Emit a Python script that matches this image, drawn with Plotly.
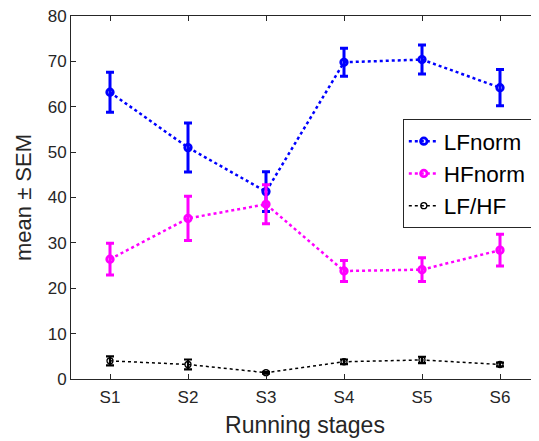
import plotly.graph_objects as go

stages = ["S1", "S2", "S3", "S4", "S5", "S6"]
stage_pos = [1, 2, 3, 4, 5, 6]
y_ticks = [0, 10, 20, 30, 40, 50, 60, 70, 80]

lf_norm = [63.2, 51.0, 41.3, 69.8, 70.4, 64.2]
lf_norm_sem = [4.4, 5.4, 4.4, 3.1, 3.2, 4.0]
hf_norm = [26.4, 35.4, 38.5, 23.8, 24.1, 28.4]
hf_norm_sem = [3.5, 4.9, 4.3, 2.3, 2.6, 3.5]
lf_hf = [4.0, 3.2, 1.4, 3.8, 4.2, 3.2]
lf_hf_sem = [1.0, 1.1, 0.2, 0.5, 0.7, 0.4]

FONT = "Liberation Sans, Arial, sans-serif"
AX = "#262626"

fig = go.Figure()

def add(name, y, e, color, lw, ms, mlw, ew, cap):
    fig.add_trace(go.Scatter(
        x=stage_pos, y=y, name=name, mode="lines+markers",
        line=dict(color=color, width=lw, dash="dot"),
        marker=dict(symbol="circle-open", size=ms, color=color, line=dict(width=mlw, color=color)),
        error_y=dict(type="data", array=e, visible=True, color=color, thickness=ew, width=cap),
    ))

add("LFnorm", lf_norm, lf_norm_sem, "#0000FF", 2.5, 6.5, 2.8, 3, 4)
add("HFnorm", hf_norm, hf_norm_sem, "#FF00FF", 2.5, 6.5, 2.8, 3, 4)
add("LF/HF", lf_hf, lf_hf_sem, "#000000", 1.5, 6, 1.3, 2.2, 4)

# the page body adds an 8px offset, so the figure is sized to fit the window
fig.update_layout(
    width=531, height=433,
    margin=dict(l=63, r=0, t=8, b=62),
    paper_bgcolor="white", plot_bgcolor="white",
    font=dict(family=FONT, color=AX, size=17),
    showlegend=True,
    legend=dict(
        x=0.709, y=0.716, xanchor="left", yanchor="top",
        bgcolor="white", bordercolor="#262626", borderwidth=1,
        font=dict(size=22.5, color="black", family=FONT),
        itemwidth=30, tracegroupgap=0,
    ),
    xaxis=dict(
        range=[0.5, 6.5], tickmode="array", tickvals=stage_pos, ticktext=stages,
        showline=True, linecolor=AX, linewidth=1, mirror="ticks",
        ticks="inside", ticklen=5, tickcolor=AX, showgrid=False, zeroline=False,
        tickfont=dict(size=17, color=AX), ticklabelstandoff=3,
        title=dict(text="Running stages", font=dict(size=23, color=AX), standoff=10),
    ),
    yaxis=dict(
        range=[0, 80], tickmode="array", tickvals=y_ticks,
        showline=True, linecolor=AX, linewidth=1, mirror="ticks",
        ticks="inside", ticklen=5, tickcolor=AX, showgrid=False, zeroline=False,
        tickfont=dict(size=17, color=AX), ticklabeloverflow="allow",
        title=dict(text="mean ± SEM", font=dict(size=22, color=AX), standoff=9),
    ),
)

fig.write_html("out.html")
